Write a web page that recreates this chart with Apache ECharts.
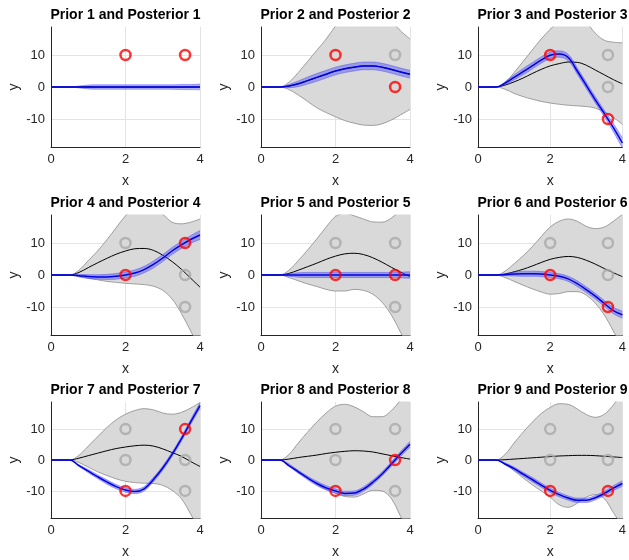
<!DOCTYPE html>
<html>
<head>
<meta charset="utf-8">
<script src="https://cdn.jsdelivr.net/npm/echarts@6/dist/echarts.min.js"></script>
<style>
html,body{margin:0;padding:0;background:#fff;}
#chart{width:629px;height:560px;}
</style>
</head>
<body>
<div id="chart"></div>
<script>
// x sample positions shared by all panels (evenly spaced)
const xs = [0, 0.25, 0.5, 0.75, 1, 1.25, 1.5, 1.75, 2, 2.25, 2.5, 2.75, 3, 3.25, 3.5, 3.75, 4];

// Prior band upper edge (per panel)
const priorUpper = [
  [0,0,0,0,0,0,0,0,0,0,0,0,0,0,0,0,0],
  [0,0,0,1.5,4.5,8,11.5,15,19,22,24,25,25,23.5,20.5,17.5,15],
  [0,0,0,1.5,4.5,8,11.5,15,18,20.5,22,22,20.2,16.8,14.6,14,13.8],
  [0,0,0,1.5,4.5,7.5,11,14.8,18.5,21,22,21,19,16.5,16,16.5,17.5],
  [0,0,0,1.5,4.5,7.8,11.3,15,18.3,19.3,18.5,17.5,16.6,16.5,17.8,20.5,24],
  [0,0,0,1.2,3.5,6,8.8,12,15,16.8,17.5,16.8,15.2,14.5,15,16.8,19],
  [0,0,0,1.5,4.5,7.5,10.5,13,14.8,16,16.6,16.2,15.2,14.8,15.4,16.8,18.6],
  [0,0,0,1.8,5.5,9,12.3,15.2,17.4,18,17.2,15.6,14,14,16,19.5,24],
  [0,0,0,1.8,5.5,9,12.2,15,17,18.2,18,16.5,14.7,13.8,14.8,17.8,22]
];
// Prior band lower edge (per panel)
const priorLower = [
  [0,0,0,0,0,0,0,0,0,0,0,0,0,0,0,0,0],
  [0,0,0,-0.8,-2.5,-4.5,-6.5,-8,-9.3,-10.5,-11.3,-11.9,-12,-11.5,-10.3,-8.7,-7],
  [0,0,0,-0.7,-2,-3,-3.8,-4.5,-5,-5.4,-5.7,-5.9,-6.1,-6.6,-7.8,-9.5,-11.7],
  [0,0,0,-0.3,-1,-1.5,-2,-2.3,-2.6,-2.8,-3,-3.5,-4.8,-7.5,-12,-17.5,-23],
  [0,0,0,-0.8,-1.8,-2.8,-3.6,-4.5,-5,-5,-4.5,-4.8,-6,-8.5,-12.5,-18,-24],
  [0,0,0,-0.8,-2,-3.2,-4.3,-5.3,-6,-5.8,-5.2,-5.2,-6.3,-8.8,-12.5,-17.5,-23],
  [0,0,0,-0.8,-2.3,-3.8,-5,-6.1,-6.9,-7.3,-7.5,-7.6,-8.2,-9.8,-12.5,-17.5,-23],
  [0,0,0,-1.2,-3.5,-5.8,-7.8,-9.5,-10.8,-11.8,-12,-11,-9.8,-10,-12.5,-18.3,-24],
  [0,0,0,-1.3,-3.5,-5.8,-8,-10,-12,-14.5,-15.3,-14,-12,-11.2,-12.5,-17,-21.5]
];
// Prior mean (black line)
const priorMean = [
  [0,0,0,0,0,0,0,0,0,0,0,0,0,0,0,0,0],
  [0,0,0,0.3,1,2,3,4,5,5.7,6.2,6.6,6.6,6.2,5.5,4.7,4],
  [0,0,0,0.6,1.6,2.8,4.2,5.5,6.6,7.3,7.8,7.7,6.8,5.3,3.8,2.3,1],
  [0,0,0,0.8,2.3,3.8,5.2,6.5,7.5,8.2,8.3,7.7,6.2,4.2,1.8,-1,-3.8],
  [0,0,0,0.5,1.5,2.6,3.7,4.9,5.9,6.6,6.8,6.4,5.4,4,2.4,0.9,-0.5],
  [0,0,0,0.3,1,1.8,2.8,3.9,4.9,5.5,5.8,5.5,4.6,3.4,2,0.7,-0.5],
  [0,0,0,0.6,1.4,2.2,3,3.7,4.2,4.6,4.8,4.5,3.6,2.4,1.2,-0.5,-2.1],
  [0,0,0,0.3,0.8,1.2,1.6,2.1,2.5,2.8,3,2.9,2.6,2,1.4,0.8,0.3],
  [0,0,0,0.1,0.3,0.5,0.7,0.9,1.1,1.3,1.4,1.5,1.5,1.4,1.2,1,0.8]
];
// Posterior mean (blue line)
const postMean = [
  [0,0,0,0,0,0,0,0,0,0,0,0,0,0,0,0,0],
  [0,0,0,0.3,1,2,3,4,5,5.7,6.2,6.6,6.6,6.2,5.5,4.7,4],
  [0,0,0,1.2,3,4.8,6.6,8.4,9.9,10.3,9.2,5,0.5,-4,-8.3,-12.7,-17.5],
  [0,0,0,-0.2,-0.5,-0.6,-0.6,-0.4,0,0.6,1.7,3.3,5.3,7.5,9.4,11.1,12.5],
  [0,0,0,0,0,0,0,0,0,0,0,0,0,0,0,0,0],
  [0,0,0,0.1,0.3,0.4,0.4,0.3,0,-0.4,-1.2,-2.7,-4.6,-6.6,-8.9,-11.1,-12.4],
  [0,0,0,-1.8,-3.6,-5.4,-7.1,-8.6,-9.7,-10.2,-9.3,-6.3,-2.6,1.8,6.8,12.3,17.6],
  [0,0,0,-1.8,-3.8,-5.8,-7.6,-9,-10,-10.8,-10.7,-9.4,-7.2,-4.5,-1.3,2,5.1],
  [0,0,0,-1.3,-2.8,-4.6,-6.3,-8.1,-9.8,-11.2,-12.3,-13,-13,-12.2,-10.8,-9.1,-7.6]
];
// Posterior band half-width (light blue band)
const postHalf = [
  [0,0,0,0.3,0.6,0.7,0.7,0.7,0.7,0.7,0.7,0.7,0.7,0.7,0.8,0.8,0.9],
  [0,0,0,0.5,0.9,1.1,1.2,1.2,1.2,1.2,1.2,1.2,1.2,1.2,1.2,1.2,1.2],
  [0,0,0,0.4,0.8,1,1,1,1,1,1,1,1,1,1,1.3,1.6],
  [0,0,0,0.4,0.6,0.7,0.8,0.9,0.9,1,1,1.1,1.1,1.1,1.1,1.2,1.4],
  [0,0,0,0.4,0.7,0.8,0.8,0.8,0.8,0.8,0.8,0.8,0.8,0.8,0.8,0.9,1],
  [0,0,0,0.3,0.6,0.8,0.8,0.8,0.8,0.8,0.8,0.9,0.9,0.9,0.9,1,1.1],
  [0,0,0,0.3,0.5,0.6,0.7,0.7,0.7,0.7,0.7,0.7,0.7,0.7,0.7,0.8,0.9],
  [0,0,0,0.3,0.5,0.6,0.7,0.7,0.7,0.7,0.7,0.7,0.7,0.7,0.7,0.8,0.9],
  [0,0,0,0.3,0.5,0.6,0.7,0.7,0.7,0.7,0.7,0.7,0.7,0.7,0.7,0.8,0.9]
];
// Observed points (red) and earlier candidate points (gray), [x, y]
const redPts = [
  [[2,10],[3.6,10]],
  [[2,10],[3.6,0]],
  [[2,10],[3.6,-10]],
  [[2,0],[3.6,10]],
  [[2,0],[3.6,0]],
  [[2,0],[3.6,-10]],
  [[2,-10],[3.6,10]],
  [[2,-10],[3.6,0]],
  [[2,-10],[3.6,-10]]
];
const grayPts = [
  [],
  [[3.6,10]],
  [[3.6,10],[3.6,0]],
  [[2,10],[3.6,0],[3.6,-10]],
  [[2,10],[3.6,10],[3.6,-10]],
  [[2,10],[3.6,10],[3.6,0]],
  [[2,10],[2,0],[3.6,0],[3.6,-10]],
  [[2,10],[2,0],[3.6,10],[3.6,-10]],
  [[2,10],[2,0],[3.6,10],[3.6,0]]
];
const titles = [1,2,3,4,5,6,7,8,9].map(k => 'Prior ' + k + ' and Posterior ' + k);
const yTicks = [-10, 0, 10];

// layout
const colLeft = [51, 261, 478];
const rowTop = [27, 215, 402];
const plotW = 149, plotH = 120;
const FONT = 'Liberation Sans';
const TXT = '#262626';
const GRIDC = '#e3e3e3';

const grids = [], xAxes = [], yAxes = [], series = [], graphics = [];
const cats = xs.map(String);
const labelEvery = 7; // show every 8th category: 0, 2, 4
for (let i = 0; i < 9; i++) {
  const r = Math.floor(i / 3), c = i % 3;
  grids.push({left: colLeft[c], top: rowTop[r], width: plotW, height: plotH});
  xAxes.push({
    type: 'category', gridIndex: i, data: cats, boundaryGap: false,
    axisLine: {show: true, onZero: false, lineStyle: {color: '#262626', width: 1}},
    axisTick: {show: false, interval: labelEvery},
    splitLine: {show: true, interval: labelEvery, lineStyle: {color: GRIDC, width: 1}},
    axisLabel: {color: TXT, fontSize: 13, fontFamily: FONT, margin: 6, interval: labelEvery},
    name: 'x', nameLocation: 'middle', nameGap: 27,
    nameTextStyle: {color: TXT, fontSize: 14, fontFamily: FONT}
  });
  yAxes.push({
    type: 'value', gridIndex: i, min: -18.75, max: 18.75,
    axisLine: {show: true, onZero: false, lineStyle: {color: '#262626', width: 1}},
    axisTick: {show: true, length: 0, customValues: yTicks},
    splitLine: {show: true, lineStyle: {color: GRIDC, width: 1}},
    axisLabel: {color: TXT, fontSize: 13, fontFamily: FONT, margin: 6, customValues: yTicks},
    name: 'y', nameLocation: 'middle', nameGap: 30,
    nameTextStyle: {color: TXT, fontSize: 14, fontFamily: FONT}
  });
  graphics.push({
    type: 'text', x: colLeft[c] + plotW / 2, y: rowTop[r] - 12,
    style: {text: titles[i], font: 'bold 14px ' + FONT, fill: '#000', textAlign: 'center', textVerticalAlign: 'middle'}
  });
}
for (let i = 0; i < 9; i++) {
  xAxes.push({type: 'value', gridIndex: i, min: 0, max: 4, show: false});
}
for (let i = 0; i < 9; i++) {
  const base = {xAxisIndex: i, yAxisIndex: i, type: 'line', symbol: 'none', smooth: 0.35,
    silent: true, animation: false, stackStrategy: 'all'};
  series.push(Object.assign({}, base, {
    stack: 'prior' + i, z: 2,
    data: priorLower[i],
    lineStyle: {color: '#8a8a8a', width: 0.8}
  }));
  series.push(Object.assign({}, base, {
    stack: 'prior' + i, z: 2,
    data: priorUpper[i].map((v, k) => v - priorLower[i][k]),
    lineStyle: {color: '#8a8a8a', width: 0.8},
    areaStyle: {color: '#d9d9d9', opacity: 1}
  }));
  series.push(Object.assign({}, base, {
    z: 3,
    data: priorMean[i],
    lineStyle: {color: '#000', width: 1}
  }));
  series.push(Object.assign({}, base, {
    stack: 'post' + i, z: 4,
    data: postMean[i].map((v, k) => v - postHalf[i][k]),
    lineStyle: {color: 'rgba(60,60,255,0.5)', width: 0.8}
  }));
  series.push(Object.assign({}, base, {
    stack: 'post' + i, z: 4,
    data: postHalf[i].map(h => 2 * h),
    lineStyle: {color: 'rgba(60,60,255,0.5)', width: 0.8},
    areaStyle: {color: 'rgba(70,70,240,0.42)', opacity: 1}
  }));
  series.push(Object.assign({}, base, {
    z: 5,
    data: postMean[i],
    lineStyle: {color: '#0000e6', width: 1.5}
  }));
  series.push({
    type: 'scatter', xAxisIndex: 9 + i, yAxisIndex: i, data: grayPts[i], symbol: 'circle', symbolSize: 10, z: 6,
    itemStyle: {color: 'rgba(0,0,0,0)', borderColor: '#a9a9a9', borderWidth: 2.5}, silent: true, animation: false
  });
  series.push({
    type: 'scatter', xAxisIndex: 9 + i, yAxisIndex: i, data: redPts[i], symbol: 'circle', symbolSize: 10, z: 7,
    itemStyle: {color: 'rgba(0,0,0,0)', borderColor: '#ff0000', borderWidth: 2.5}, silent: true, animation: false
  });
}

const chart = echarts.init(document.getElementById('chart'), null, {renderer: 'canvas'});
chart.setOption({
  animation: false,
  backgroundColor: '#fff',
  grid: grids, xAxis: xAxes, yAxis: yAxes, series: series,
  graphic: graphics
});
</script>
</body>
</html>
